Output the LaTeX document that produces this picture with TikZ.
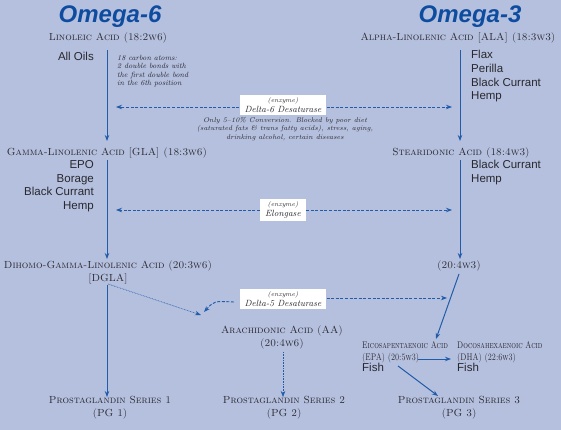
\documentclass[tikz,border=0pt]{standalone}
\usepackage{fontspec}
\newfontfamily\sansf{Liberation Sans}
\usetikzlibrary{arrows.meta}
\definecolor{bgc}{RGB}{181,192,222}
\definecolor{lineblue}{RGB}{32,92,170}
\definecolor{titleblue}{RGB}{14,76,160}
\definecolor{txt}{RGB}{40,40,46}
\newcommand{\cnd}[1]{\scalebox{0.77}[1]{#1}}
\begin{document}
\begin{tikzpicture}[x=1pt,y=-1pt,
  title/.style={text=titleblue,font=\sansf\bfseries\itshape\fontsize{24}{26}\selectfont,inner sep=0pt},
  acid/.style={text=txt,font=\fontsize{10.3}{13}\selectfont\scshape,inner sep=0pt,align=center},
  src/.style={text=txt,font=\sansf\fontsize{11.5}{13.8}\selectfont,inner sep=0pt},
  note/.style={text=txt,font=\fontsize{7.5}{8.4}\selectfont\itshape,inner sep=0pt},
  cnote/.style={text=txt,font=\fontsize{6.9}{8.4}\selectfont\itshape,inner sep=0pt},
  enz/.style={fill=white,inner xsep=5pt,inner ysep=2.5pt,align=center,text=txt,font=\fontsize{9}{9}\selectfont\itshape},
  flow/.style={draw=lineblue,line width=1pt,-{Stealth[length=6pt,width=4.5pt]}},
  dflow/.style={draw=lineblue,line width=0.9pt,dash pattern=on 3pt off 1.6pt,-{Stealth[length=6pt,width=4.5pt]}},
  dotflow/.style={draw=lineblue,line width=0.6pt,dash pattern=on 0.8pt off 0.8pt,-{Stealth[length=6pt,width=4.5pt]}},
  small/.style={text=txt,font=\fontsize{9.6}{12.5}\selectfont\scshape,inner sep=0pt,align=left}
]
\fill[bgc] (0,0) rectangle (561,430);
\useasboundingbox (0,0) rectangle (561,430);

% titles
\node[title] (t6) at (110,17) {Omega-6};
\node[title] (t3) at (470,17) {Omega-3};

% acids
\node[acid] (la) at (108,38) {Linoleic Acid (18:2w6)};
\node[acid] (ala) at (458,38) {Alpha-Linolenic Acid [ALA] (18:3w3)};
\node[acid] (gla) at (107,153) {Gamma-Linolenic Acid [GLA] (18:3w6)};
\node[acid] (sda) at (461,153) {Stearidonic Acid (18:4w3)};
\node[acid] (dgla) at (108,272) {Dihomo-Gamma-Linolenic Acid (20:3w6)\\{}[DGLA]};
\node[acid] (w3) at (459,266) {(20:4w3)};
\node[acid] (aa) at (282,337) {Arachidonic Acid (AA)\\(20:4w6)};
\node[acid] (pg1) at (110,408) {Prostaglandin Series 1\\(PG 1)};
\node[acid] (pg2) at (284,408) {Prostaglandin Series 2\\(PG 2)};
\node[acid] (pg3) at (459,408) {Prostaglandin Series 3\\(PG 3)};

\node[small,anchor=north west] (epa) at (362,341) {\cnd{Eicosapentaenoic Acid}\\\cnd{(EPA) (20:5w3)}\\[-2pt]{\sansf\upshape\fontsize{11.5}{12}\selectfont Fish}};
\node[small,anchor=north west] (dha) at (457,341) {\cnd{Docosahexaenoic Acid}\\\cnd{(DHA) (22:6w3)}\\[-2pt]{\sansf\upshape\fontsize{11.5}{12}\selectfont Fish}};

% sources
\node[src,anchor=east] (oils) at (94,56) {All Oils};
\node[src,anchor=north west,align=left] (s3) at (471,50) {Flax\\Perilla\\Black Currant\\Hemp};
\node[src,anchor=north east,align=right] (s6b) at (94,160) {EPO\\Borage\\Black Currant\\Hemp};
\node[src,anchor=north west,align=left] (s3b) at (471,160) {Black Currant\\Hemp};

% notes
\node[note,anchor=north west,align=left] (n1) at (117,55) {18 carbon atoms:\\2 double bonds with\\the first double bond\\in the 6th position};
\node[cnote,align=center] (n2) at (285,129) {Only 5--10\% Conversion. Blocked by poor diet\\(saturated fats \& trans fatty acids), stress, aging,\\drinking alcohol, certain diseases};

% enzymes
\node[enz] (e1) at (283,105) {{\fontsize{6.5}{7}\selectfont (enzyme)}\\[1pt]Delta-6 Desaturase};
\node[enz] (e2) at (283,210) {{\fontsize{6.5}{7}\selectfont (enzyme)}\\[1pt]Elongase};
\node[enz] (e3) at (283,299) {{\fontsize{6.5}{7}\selectfont (enzyme)}\\[1pt]Delta-5 Desaturase};

% coordinates for column lines
\coordinate (a1) at (107,50);  \coordinate (a2) at (107,141);
\coordinate (a3) at (107,160); \coordinate (a4) at (107,259);
\coordinate (a5) at (107,285); \coordinate (a6) at (107,397);
\coordinate (b1) at (460,50);  \coordinate (b2) at (460,141);
\coordinate (b3) at (460,160); \coordinate (b4) at (460,259);
\coordinate (c1) at (116,107); \coordinate (c2) at (452,107);
\coordinate (c3) at (116,210); \coordinate (c4) at (452,210);
\coordinate (c5) at (447,298); \coordinate (c6) at (234,302); \coordinate (c7) at (204,312);
\coordinate (d1) at (108,284); \coordinate (d2) at (201,315);
\coordinate (d3) at (283,352); \coordinate (d4) at (283,397);
\coordinate (f1) at (459,274); \coordinate (f2) at (436,339);
\coordinate (g1) at (418,359); \coordinate (g2) at (451,359);
\coordinate (g3) at (398,366); \coordinate (g4) at (438,396);

\draw[flow] (a1) -- (a2);
\draw[flow] (a3) -- (a4);
\draw[flow] (a5) -- (a6);
\draw[flow] (b1) -- (b2);
\draw[flow] (b3) -- (b4);
\draw[dflow] (e1.west |- c1) -- (c1);
\draw[dflow] (e1.east |- c2) -- (c2);
\draw[dflow] (e2.west |- c3) -- (c3);
\draw[dflow] (e2.east |- c4) -- (c4);
\draw[dflow] (e3.east |- c5) -- (c5);
\draw[dflow] (c6) .. controls (214,301) .. (c7);
\draw[dotflow] (d1) -- (d2);
\draw[dotflow] (d3) -- (d4);
\draw[flow] (f1) -- (f2);
\draw[flow] (g1) -- (g2);
\draw[flow] (g3) -- (g4);
\end{tikzpicture}
\end{document}
